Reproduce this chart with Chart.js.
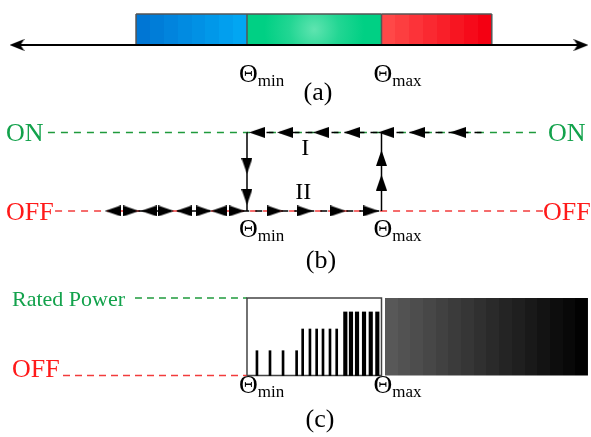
<!DOCTYPE html>
<html>
<head>
<meta charset="utf-8">
<script src="https://cdn.jsdelivr.net/npm/chart.js@4.4.1/dist/chart.umd.min.js"></script>
<style>
body{margin:0;background:#fff}
canvas{display:block}
</style>
</head>
<body>
<canvas id="ChartA" width="591" height="112"></canvas>
<canvas id="ChartB" width="591" height="168"></canvas>
<canvas id="ChartC" width="591" height="157"></canvas>
<script>
// thresholds and temperature zones
const thetaMin = 20, thetaMax = 30;
const zoneFrom = [11.75, 20, 30];
const zoneTo = [20, 30, 38.2];
const axisEnds = [2.9, 44.83];

// relay states
const OFF = 0, ON = 1;
const onLine = [5.2, 41.93];
const offLine = [5.73, 42.0];
const onPathEnd = 37.84;
const offPathStart = 9.5;
const onArrowX = [20.74, 22.83, 25.5, 27.81, 30.33, 32.64, 35.69];
const ditherX = [10.04, 11.38, 12.71, 13.98, 15.32, 16.8, 17.92, 19.26];
const offArrowX = [22.08, 24.31, 26.77, 29.22];
const fallArrowY = [0.573, 0.178];
const riseArrowY = [0.363, 0.675];

// power pulses (fraction of rated power)
const lowPulseX = [20.74, 21.71, 22.68, 23.69];
const midPulseX = [24.14, 24.68, 25.18, 25.65, 26.17, 26.67];
const highPulseX = [27.31, 27.73, 28.18, 28.7, 29.2, 29.69];
const powerLevels = [0.32, 0.60, 0.82];
const ratedFrom = 11.67, offRefFrom = 6.32;
const fullPower = [30.26, 45.35];

const X_MIN = 1.636, X_MAX = 45.576;
const GREEN = '#13a24c', RED = '#ff1a1a', SERIF = '"Liberation Serif", "DejaVu Serif", serif';

function arrowHead(len, wid, notch){
  const c = document.createElement('canvas');
  c.width = len; c.height = wid;
  const g = c.getContext('2d');
  g.fillStyle = '#000';
  g.beginPath();
  g.moveTo(len, wid/2); g.lineTo(0, 0); g.lineTo(notch, wid/2); g.lineTo(0, wid);
  g.closePath(); g.fill();
  return c;
}
const ARROW = arrowHead(16, 11, 0);
const BIG_ARROW = arrowHead(15, 12, 4);

function mix(a, b, t){
  return 'rgb(' + a.map((v, i) => Math.round(v + (b[i]-v)*t)).join(',') + ')';
}
function stepped(ctx, x0, x1, c0, c1, steps){
  const g = ctx.createLinearGradient(x0, 0, x1, 0);
  for(let i=0;i<steps;i++){
    const col = mix(c0, c1, i/(steps-1));
    g.addColorStop(i/steps, col);
    g.addColorStop((i+1)/steps, col);
  }
  return g;
}
// scales have no size yet while the legend builds its labels
function ready(...px){ return px.every(v => Number.isFinite(v)); }

function seg(points, color, width, dash, offset){
  return {data: points, borderColor: color, borderWidth: width, borderDash: dash || [],
    borderDashOffset: offset || 0, pointRadius: 0, fill: false, tension: 0};
}
function arrows(points, rot, img){
  return {data: points, showLine: false, pointStyle: img || ARROW, pointRotation: rot,
    pointRadius: 6, pointHoverRadius: 6};
}
function baseOptions(ymin, ymax){
  return {
    responsive: false, animation: false,
    layout: {padding: 0, autoPadding: false},
    scales: {
      x: {type: 'linear', min: X_MIN, max: X_MAX, display: false, offset: false},
      y: {type: 'linear', min: ymin, max: ymax, display: false}
    },
    plugins: {legend: {display: false}, tooltip: {enabled: false}}
  };
}

function thetaLabel(ctx, x, base, sub){
  ctx.save();
  ctx.fillStyle = '#000';
  ctx.textAlign = 'left';
  ctx.textBaseline = 'alphabetic';
  ctx.font = '26px ' + SERIF;
  ctx.fillText('Θ', x, base);
  const w = ctx.measureText('Θ').width;
  ctx.font = '17px ' + SERIF;
  ctx.fillText(sub, x + w, base + 4);
  ctx.restore();
}
function text(ctx, s, x, y, color, size, align){
  ctx.save();
  ctx.fillStyle = color;
  ctx.font = size + 'px ' + SERIF;
  ctx.textAlign = align || 'left';
  ctx.textBaseline = 'alphabetic';
  ctx.fillText(s, x, y);
  ctx.restore();
}
function thetaLabels(chart, base){
  const {ctx, scales: {x}} = chart;
  thetaLabel(ctx, x.getPixelForValue(thetaMin) - 8, base, 'min');
  thetaLabel(ctx, x.getPixelForValue(thetaMax) - 8, base, 'max');
}

//								(a) ZONES
const zoneColours = [
  (ctx, x0, x1) => stepped(ctx, x0, x1, [0,118,212], [2,166,242], 8),
  (ctx, x0, x1, cy) => {
    const cx = (x0 + x1)/2;
    const g = ctx.createRadialGradient(cx, cy, 0, cx, cy, 50);
    g.addColorStop(0, '#5fe4b0'); g.addColorStop(0.5, '#22d693'); g.addColorStop(1, '#00d084');
    return g;
  },
  (ctx, x0, x1) => stepped(ctx, x0, x1, [255,72,72], [244,0,18], 8)
];
const zoneFallback = ['#0490e0', '#00d084', '#ff2a2a'];
function zoneFill(i){
  return c => {
    const {x, y} = c.chart.scales;
    if(!x || !y) return zoneFallback[i];
    const x0 = x.getPixelForValue(zoneFrom[i]), x1 = x.getPixelForValue(zoneTo[i]), cy = y.getPixelForValue(0.5);
    if(!ready(x0, x1, cy)) return zoneFallback[i];
    return zoneColours[i](c.chart.ctx, x0, x1, cy);
  };
}
const zoneEdges = [];
zoneFrom.concat([zoneTo[zoneTo.length-1]]).forEach(v => {
  zoneEdges.push({x: v, y: 0}, {x: v, y: 1}, {x: v, y: null});
});

const labelsA = {id: 'labelsA', afterDraw(chart){
  const {ctx, scales: {y}} = chart;
  const b = y.getPixelForValue(0);
  thetaLabels(chart, b + 37);
  text(ctx, '(a)', 318, b + 55, '#000', 26, 'center');
}};

const ChartA = new Chart(document.getElementById('ChartA'), {
  type: 'line',
  data: {datasets: [
    arrows([{x: axisEnds[0], y: 0}, {x: axisEnds[1], y: 0}], [180, 0], BIG_ARROW),
    seg([{x: axisEnds[0], y: 0}, {x: axisEnds[1], y: 0}], '#000', 2),
    seg(zoneEdges, '#555', 1.5),
    ...zoneFrom.map((f, i) => ({
      data: [{x: f, y: 1}, {x: zoneTo[i], y: 1}], borderColor: '#555', borderWidth: 1.5,
      pointRadius: 0, fill: {value: 0}, backgroundColor: zoneFill(i)
    }))
  ]},
  options: baseOptions(-2.161, 1.4516),
  plugins: [labelsA]
});

//								(b) HYSTERESIS
const labelsB = {id: 'labelsB', afterDraw(chart){
  const {ctx, scales: {x, y}} = chart;
  const yOn = y.getPixelForValue(ON), yOff = y.getPixelForValue(OFF);
  text(ctx, 'ON', 6, yOn + 8.5, GREEN, 26);
  text(ctx, 'OFF', 6, yOff + 9, RED, 26);
  text(ctx, 'ON', 548, yOn + 8.5, GREEN, 26);
  text(ctx, 'OFF', 543, yOff + 9, RED, 26);
  const mid = x.getPixelForValue((thetaMin + thetaMax)/2) - 9;
  text(ctx, 'I', mid, yOn + 23, '#000', 24, 'center');
  text(ctx, 'II', mid - 2, yOff - 12, '#000', 24, 'center');
  thetaLabels(chart, yOff + 26);
  text(ctx, '(b)', 321, yOff + 57, '#000', 26, 'center');
}};

const ChartB = new Chart(document.getElementById('ChartB'), {
  type: 'line',
  data: {datasets: [
    arrows(onArrowX.map(v => ({x: v, y: ON})), 180),
    arrows(ditherX.map(v => ({x: v, y: OFF})), ditherX.map((v, i) => i % 2 ? 0 : 180)),
    arrows(offArrowX.map(v => ({x: v, y: OFF})), 0),
    arrows(fallArrowY.map(v => ({x: thetaMin, y: v})), 90),
    arrows(riseArrowY.map(v => ({x: thetaMax, y: v})), -90),
    seg([{x: thetaMin, y: ON}, {x: thetaMin, y: OFF}], '#000', 1.5),
    seg([{x: thetaMax, y: OFF}, {x: thetaMax, y: ON}], '#000', 1.5),
    seg([{x: thetaMin, y: ON}, {x: onPathEnd, y: ON}], '#000', 1.5, [7, 6], 6.5),
    seg([{x: offPathStart, y: OFF}, {x: thetaMax, y: OFF}], '#000', 1.5, [7, 6], 6.5),
    seg(onLine.map(v => ({x: v, y: ON})), '#1f9a3c', 1.3, [7, 6]),
    seg(offLine.map(v => ({x: v, y: OFF})), '#f23c3c', 1.3, [7, 6])
  ]},
  options: baseOptions(-0.879, 1.2611),
  plugins: [labelsB]
});

//								(c) POWER
const labelsC = {id: 'labelsC', afterDraw(chart){
  const {ctx, scales: {y}} = chart;
  const y1 = y.getPixelForValue(1), y0 = y.getPixelForValue(0);
  text(ctx, 'Rated Power', 12, y1 + 8, GREEN, 22);
  text(ctx, 'OFF', 12, y0 + 1.5, RED, 26);
  thetaLabels(chart, y0 + 17.5);
  text(ctx, '(c)', 320, y0 + 51.5, '#000', 26, 'center');
}};

function pulses(xs, level, width){
  return {type: 'bar', data: xs.map(v => ({x: v, y: level})), backgroundColor: '#000',
    barThickness: width, grouped: false, borderWidth: 0};
}

const ChartC = new Chart(document.getElementById('ChartC'), {
  type: 'line',
  data: {datasets: [
    pulses(lowPulseX, powerLevels[0], 2),
    pulses(midPulseX, powerLevels[1], 2),
    pulses(highPulseX, powerLevels[2], 3.5),
    seg([{x: thetaMin, y: 0}, {x: thetaMin, y: 1}, {x: thetaMax, y: 1}, {x: thetaMax, y: 0}, {x: thetaMin, y: 0}], '#444', 1.5),
    {data: fullPower.map(v => ({x: v, y: 1})), borderColor: 'rgba(0,0,0,0)', borderWidth: 1,
      pointRadius: 0, fill: {value: 0},
      backgroundColor: c => {
        const {x} = c.chart.scales;
        if(!x) return '#333';
        const x0 = x.getPixelForValue(fullPower[0]), x1 = x.getPixelForValue(fullPower[1]);
        if(!ready(x0, x1)) return '#333';
        return stepped(c.chart.ctx, x0, x1, [88,88,88], [2,2,2], 16);
      }},
    seg([{x: ratedFrom, y: 1}, {x: thetaMin, y: 1}], '#1f9a3c', 1.3, [7, 5]),
    seg([{x: offRefFrom, y: 0}, {x: thetaMin, y: 0}], '#f23c3c', 1.3, [7, 5])
  ]},
  options: baseOptions(-0.7935, 1.2323),
  plugins: [labelsC]
});
</script>
</body>
</html>
